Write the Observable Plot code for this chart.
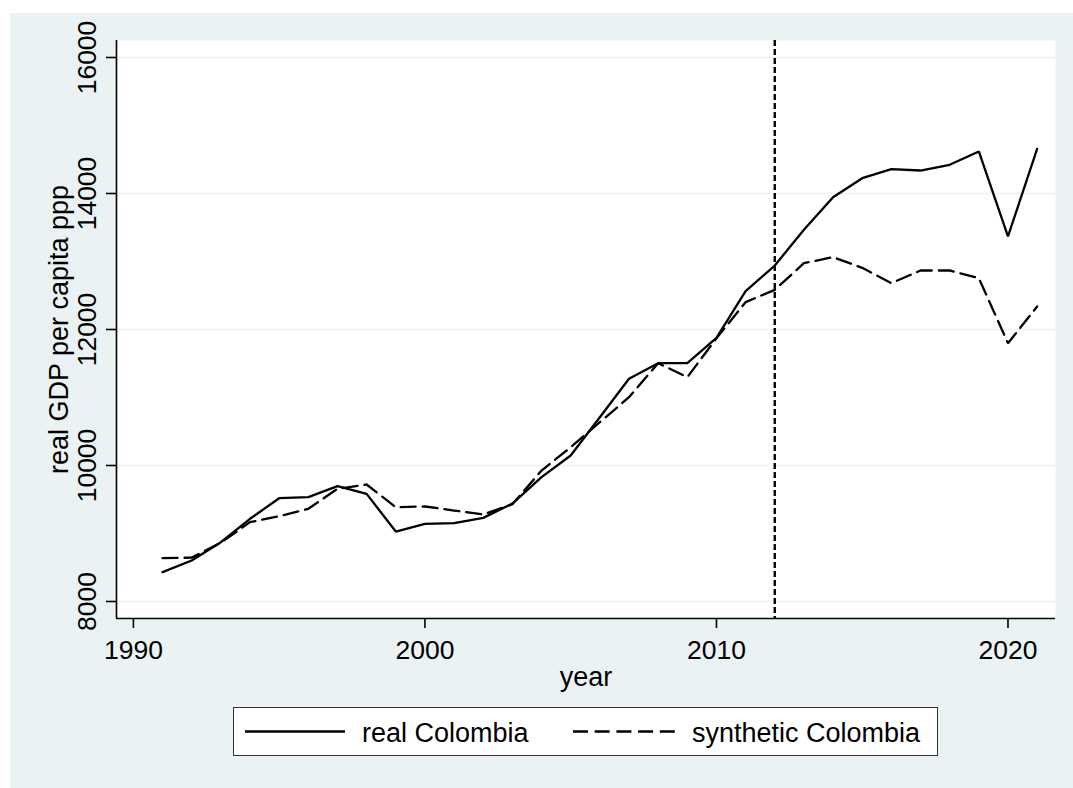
<!DOCTYPE html>
<html>
<head>
<meta charset="utf-8">
<script src="https://cdn.jsdelivr.net/npm/d3@7"></script>
<script src="https://cdn.jsdelivr.net/npm/@observablehq/plot@0.6"></script>
<style>
  html, body { margin: 0; padding: 0; background: #ffffff; }
  #frame { position: absolute; left: 10px; top: 13px; width: 1063px; height: 775px; background: #EAF2F3; font-family: "Liberation Sans", Arial, sans-serif; }
  #chart { position: absolute; left: 0; top: 0; }
  #legend { position: absolute; left: 223px; top: 694px; width: 705px; height: 49px; box-sizing: border-box; background: #ffffff; border: 1.5px solid #333333; }
  #legend svg { position: absolute; left: 0; top: 0; }
</style>
</head>
<body>
<div id="frame">
  <div id="chart"></div>
  <div id="legend"></div>
</div>
<script>
// ---- data ----
const years = [1991, 1992, 1993, 1994, 1995, 1996, 1997, 1998, 1999, 2000,
               2001, 2002, 2003, 2004, 2005, 2006, 2007, 2008, 2009, 2010,
               2011, 2012, 2013, 2014, 2015, 2016, 2017, 2018, 2019, 2020, 2021];
const realColombia = [8431, 8603, 8872, 9216, 9519, 9534, 9696, 9583, 9029, 9142,
                      9152, 9230, 9440, 9828, 10147, 10710, 11275, 11505, 11505, 11877,
                      12564, 12941, 13466, 13946, 14225, 14358, 14338, 14422, 14618, 13368, 14657];
const syntheticColombia = [8637, 8645, 8865, 9167, 9255, 9363, 9657, 9721, 9387, 9397,
                           9338, 9279, 9430, 9926, 10269, 10637, 11004, 11505, 11299, 11870,
                           12402, 12583, 12975, 13064, 12907, 12681, 12868, 12868, 12755, 11799, 12338];
const treatmentYear = [2012];
const xTicks = [1990, 2000, 2010, 2020];
const yTicks = [8000, 10000, 12000, 14000, 16000];
const xDomain = [1989.42, 2021.63];
const yDomain = [7750, 16250];
const xLabel = "year";
const yLabel = "real GDP per capita ppp";
const seriesNames = ["real Colombia", "synthetic Colombia"];

const realRows = years.map((yr, i) => ({year: yr, value: realColombia[i]}));
const synthRows = years.map((yr, i) => ({year: yr, value: syntheticColombia[i]}));

const FS = 27;     // titles / legend
const TFS = 26.5;  // tick labels
const ink = "#000000";
const LW = 2.3;

const chart = Plot.plot({
  width: 1063,
  height: 687,
  marginLeft: 106,
  marginRight: 18,
  marginTop: 27,
  marginBottom: 82,
  style: {background: "transparent", fontFamily: "'Liberation Sans', Arial, sans-serif", fontSize: FS + "px", color: ink, overflow: "visible"},
  x: {domain: xDomain, axis: null, label: null},
  y: {domain: yDomain, axis: null, label: null},
  marks: [
    Plot.frame({fill: "#ffffff", stroke: null}),
    Plot.gridY(yTicks, {stroke: "#EAF2F3", strokeOpacity: 1, strokeWidth: 1.6}),
    Plot.ruleX([xDomain[0]], {stroke: ink, strokeWidth: 1.6}),
    Plot.ruleY([yDomain[0]], {stroke: ink, strokeWidth: 1.6}),
    Plot.axisY(yTicks, {anchor: "left", tickSize: 10, tickPadding: 11, tickRotate: -90,
      tickFormat: d => String(d), fontSize: TFS, strokeWidth: 1.6, stroke: ink, fill: ink, label: null}),
    Plot.axisX(xTicks, {anchor: "bottom", tickSize: 10, tickPadding: 12,
      tickFormat: d => String(d), fontSize: TFS, strokeWidth: 1.6, stroke: ink, fill: ink, label: null}),
    Plot.text([yLabel], {text: d => d, frameAnchor: "left", rotate: -90, dx: -49,
      lineAnchor: "bottom", textAnchor: "middle", fontSize: FS, fill: ink}),
    Plot.text([xLabel], {text: d => d, frameAnchor: "bottom", dy: 67,
      lineAnchor: "bottom", textAnchor: "middle", fontSize: FS, fill: ink}),
    Plot.ruleX(treatmentYear, {stroke: ink, strokeWidth: 2.4, strokeDasharray: "6,3"}),
    Plot.line(synthRows, {x: "year", y: "value", stroke: ink, strokeWidth: LW,
      strokeDasharray: "15,7", strokeLinejoin: "miter"}),
    Plot.line(realRows, {x: "year", y: "value", stroke: ink, strokeWidth: LW,
      strokeLinejoin: "miter"})
  ]
});
document.getElementById("chart").appendChild(chart);

// ---- legend (below the SVG) ----
const lg = d3.select("#legend").append("svg")
  .attr("width", 702).attr("height", 46)
  .style("font-family", "'Liberation Sans', Arial, sans-serif")
  .style("font-size", FS + "px");
const items = [
  {name: seriesNames[0], x0: 11, x1: 111, tx: 128, dash: null},
  {name: seriesNames[1], x0: 339, x1: 441, tx: 458, dash: "15,6.7"}
];
items.forEach(it => {
  lg.append("line").attr("x1", it.x0).attr("x2", it.x1).attr("y1", 23.5).attr("y2", 23.5)
    .attr("stroke", ink).attr("stroke-width", LW)
    .attr("stroke-dasharray", it.dash);
  lg.append("text").attr("x", it.tx).attr("y", 34).attr("fill", ink).text(it.name);
});
</script>
</body>
</html>
